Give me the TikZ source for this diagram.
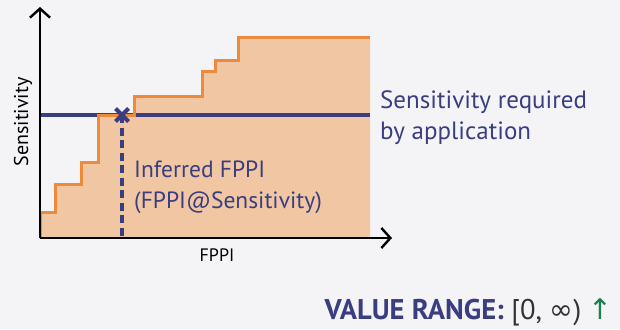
\documentclass[tikz,border=0pt]{standalone}
\usepackage{fontspec}
\setmainfont{PT Sans}
\newfontfamily\symfont{DejaVu Sans}
\usetikzlibrary{arrows.meta,calc}
\definecolor{bgc}{HTML}{F4F4F7}
\definecolor{navy}{HTML}{3A3E80}
\definecolor{peach}{HTML}{F0C6A3}
\definecolor{curve}{HTML}{EE8A3C}
\definecolor{rangegreen}{HTML}{1E7F4E}
\definecolor{rangegray}{HTML}{333333}
\tikzset{
  axis/.style={line width=2.8pt, -{Straight Barb[length=9pt,width=20pt,line width=2.4pt]}},
  stair/.style={draw=curve, line width=3pt, line join=miter},
  reqline/.style={draw=navy, line width=3.6pt},
  dropline/.style={draw=navy, line width=3.2pt, dash pattern=on 8pt off 4.5pt},
  lbl/.style={text=navy, anchor=base west, inner sep=0pt},
  axlbl/.style={text=black, inner sep=0pt},
}
\begin{document}
\begin{tikzpicture}[x=1pt,y=-1pt]
\useasboundingbox (0,0) rectangle (620,329);
\fill[bgc] (0,0) rectangle (620,329);

% origin and axis end points
\coordinate (O) at (40,238);
\coordinate (ytip) at (40,7);
\coordinate (xtip) at (392,238);

% area under the staircase
\fill[peach] (40,238) -- (40,212) -- (55,212) -- (55,184) -- (81,184) -- (81,162)
  -- (98,162) -- (98,115) -- (134,115) -- (134,96) -- (202,96) -- (202,71)
  -- (215,71) -- (215,60) -- (238,60) -- (238,38) -- (370,38) -- (370,238) -- cycle;

% required sensitivity
\coordinate (reqL) at (40,115);
\coordinate (reqR) at (370,115);
\draw[reqline] (reqL) -- (reqR);

% staircase outline
\draw[stair] (40,238) -- (40,212) -- (55,212) -- (55,184) -- (81,184) -- (81,162)
  -- (98,162) -- (98,115) -- (134,115) -- (134,96) -- (202,96) -- (202,71)
  -- (215,71) -- (215,60) -- (238,60) -- (238,38) -- (370,38);

% operating point and projection onto the FPPI axis
\coordinate (op) at (122,115);
\coordinate (opfoot) at (122,238);
\draw[dropline] (op) -- (opfoot);
\draw[navy, line width=4pt] ($(op)+(-6.5,-6.5)$) -- ($(op)+(6.5,6.5)$) ($(op)+(-6.5,6.5)$) -- ($(op)+(6.5,-6.5)$);

% axes
\draw[axis] (O) -- (ytip);
\draw[axis] (O) -- (xtip);

% labels
\node[axlbl, rotate=90, font=\fontsize{20}{22}\selectfont] (ylab) at (23,122) {Sensitivity};
\node[axlbl, font=\fontsize{18}{20}\selectfont] (xlab) at (217,255) {FPPI};
\node[lbl, font=\fontsize{23.5}{26}\selectfont] (inf1) at (134,177) {Inferred FPPI};
\node[lbl, font=\fontsize{23.5}{26}\selectfont] (inf2) at (134,208) {(FPPI@Sensitivity)};
\node[lbl, font=\fontsize{25}{30}\selectfont] (req1) at (380,108) {Sensitivity required};
\node[lbl, font=\fontsize{25}{30}\selectfont] (req2) at (380,139) {by application};
\node[anchor=base east, inner sep=0pt, font=\fontsize{28.5}{32}\selectfont] (range) at (613,319)
  {\textcolor{navy}{\bfseries VALUE RANGE:} \textcolor{rangegray}{[0, {\symfont ∞})} \textcolor{rangegreen}{\symfont ↑}};
\end{tikzpicture}
\end{document}
